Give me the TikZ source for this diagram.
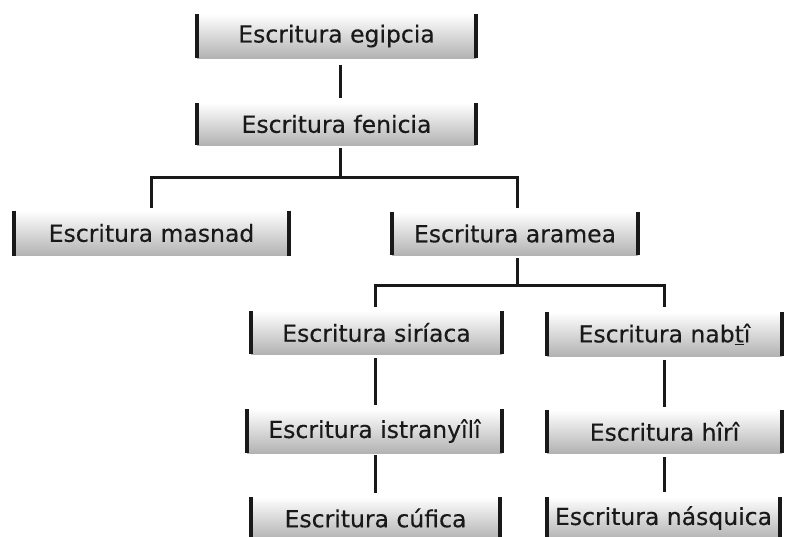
\documentclass[tikz,border=0pt]{standalone}
\usepackage{fontspec}
\setmainfont{DejaVu Sans}
\newfontfamily\boxfont[FakeBold=0.3]{DejaVu Sans}
\usetikzlibrary{calc}
\begin{document}
\begin{tikzpicture}[x=1pt,y=-1pt,
  sbox/.style={shade,top color=white,middle color=black!8,bottom color=black!30,
    inner sep=0pt,outer sep=0pt,font=\boxfont\fontsize{23.5}{28}\selectfont,text=black!90},
  bar/.style={line width=4pt,black!90},
  conn/.style={line width=3pt,black!90}]
\useasboundingbox (0,0) rectangle (785,536);
\node[sbox,minimum width=279pt,minimum height=44pt] (egi) at (336.5,36) {Escritura egipcia};
\node[sbox,minimum width=279pt,minimum height=42pt] (fen) at (336.5,124) {Escritura fenicia};
\node[sbox,minimum width=275pt,minimum height=45pt] (mas) at (151.5,233) {Escritura masnad};
\node[sbox,minimum width=246pt,minimum height=43pt] (ara) at (515,233.5) {Escritura aramea};
\node[sbox,minimum width=251pt,minimum height=43pt] (sir) at (376.5,332.5) {Escritura siríaca};
\node[sbox,minimum width=235pt,minimum height=44pt] (nab) at (664.5,334) {Escritura nab\underline{t}î};
\node[sbox,minimum width=255pt,minimum height=44pt] (ist) at (374.5,431) {Escritura istranyîlî};
\node[sbox,minimum width=235pt,minimum height=43pt] (hir) at (664.5,431.5) {Escritura hîrî};
\node[sbox,minimum width=249pt,minimum height=42pt] (cuf) at (375.5,518) {Escritura cúfica};
\node[sbox,minimum width=233pt,minimum height=42pt] (nas) at (663.5,518) {Escritura násquica};
\foreach \n in {egi,fen,mas,ara,sir,nab,ist,hir,cuf,nas}{
  \draw[bar] (\n.north west) -- (\n.south west);
  \draw[bar] (\n.north east) -- (\n.south east);
}
\coordinate (f1) at (340,177);
\coordinate (f2) at (517,285);
\draw[conn] ([xshift=3.5pt,yshift=-7pt]egi.south) -- ([xshift=3.5pt,yshift=5pt]fen.north);
\draw[conn] ([xshift=3.5pt,yshift=-3pt]fen.south) -- (f1);
\draw[conn] ([yshift=3pt]mas.north) |- (f1) -| ([xshift=2pt,yshift=4pt]ara.north);
\draw[conn] ([xshift=2pt,yshift=-3pt]ara.south) -- (f2);
\draw[conn] ([xshift=-1.5pt,yshift=4pt]sir.north) |- (f2) -| ([yshift=5pt]nab.north);
\draw[conn] ([xshift=-1.5pt,yshift=-4pt]sir.south) -- ([xshift=0.5pt,yshift=4pt]ist.north);
\draw[conn] ([xshift=0.5pt,yshift=-2pt]ist.south) -- ([xshift=-0.5pt,yshift=4pt]cuf.north);
\draw[conn] ([yshift=-4pt]nab.south) -- ([yshift=3pt]hir.north);
\draw[conn] ([yshift=-4pt]hir.south) -- ([xshift=1pt,yshift=5pt]nas.north);
\end{tikzpicture}
\end{document}
